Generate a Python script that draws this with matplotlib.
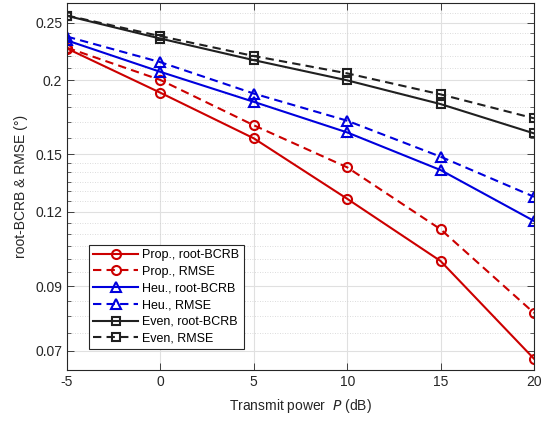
import matplotlib
matplotlib.use("Agg")
import matplotlib.pyplot as plt
import numpy as np
from matplotlib.ticker import FixedLocator, NullFormatter

plt.rcParams['font.family'] = ['Liberation Sans', 'DejaVu Sans']

power_db = [-5, 0, 5, 10, 15, 20]
prop_bcrb = [0.2263, 0.1906, 0.1597, 0.1263, 0.0992, 0.0679]
prop_rmse = [0.2270, 0.2003, 0.1680, 0.1427, 0.1122, 0.0811]
heu_bcrb = [0.2335, 0.2067, 0.1840, 0.1634, 0.1412, 0.1159]
heu_rmse = [0.2370, 0.2146, 0.1900, 0.1710, 0.1487, 0.1273]
even_bcrb = [0.2569, 0.2352, 0.2163, 0.2000, 0.1824, 0.1628]
even_rmse = [0.2572, 0.2374, 0.2198, 0.2055, 0.1894, 0.1726]

major_yticks = [0.07, 0.09, 0.12, 0.15, 0.2, 0.25]
major_ylabels = ['0.07', '0.09', '0.12', '0.15', '0.2', '0.25']
xticks = [-5, 0, 5, 10, 15, 20]

red = '#CC0000'
blue = '#0000DD'
black = '#202020'

fig = plt.figure(figsize=(5.54, 4.24), dpi=100)
ax = fig.add_axes([67/554, 1-370/424, (534-67)/554, (370-3)/424])

dash = (4, 2.5)
lw = 1.5
series = [
    (prop_bcrb, red, '-', 'o', 6.5, 'Prop., root-BCRB'),
    (prop_rmse, red, '--', 'o', 6.5, 'Prop., RMSE'),
    (heu_bcrb, blue, '-', '^', 7.5, 'Heu., root-BCRB'),
    (heu_rmse, blue, '--', '^', 7.5, 'Heu., RMSE'),
    (even_bcrb, black, '-', 's', 5.2, 'Even, root-BCRB'),
    (even_rmse, black, '--', 's', 5.2, 'Even, RMSE'),
]
for vals, c, ls, m, ms, lab in series:
    line, = ax.plot(power_db, vals, color=c, linestyle=ls, marker=m, markersize=ms,
                    markerfacecolor='none', markeredgewidth=1.5, linewidth=lw, label=lab)
    if ls == '--':
        line.set_dashes(dash)

ax.set_yscale('log')
ax.set_xlim(-5, 20)
ax.set_ylim(0.065, 0.27)

minor = [v/1000 for v in range(65, 150, 5)] + [v/100 for v in range(15, 28)]
minor = [m for m in minor if all(abs(m - M) > 1e-9 for M in major_yticks)]
ax.yaxis.set_major_locator(FixedLocator(major_yticks))
ax.set_yticklabels(major_ylabels)
ax.yaxis.set_minor_locator(FixedLocator(minor))
ax.yaxis.set_minor_formatter(NullFormatter())
ax.set_xticks(xticks)
ax.set_xticklabels([str(x) for x in xticks])

ax.grid(True, which='major', color='#E0E0E0', linewidth=0.8, linestyle='-')
ax.grid(True, which='minor', axis='y', color='#D0D0D0', linewidth=0.6, linestyle=(0, (1, 2)))
ax.set_axisbelow(True)

ax.tick_params(which='both', direction='in', top=True, right=True, colors='#262626',
               labelsize=10)
ax.tick_params(which='major', length=5, width=0.6)
ax.tick_params(which='minor', length=3, width=0.5)
for s in ax.spines.values():
    s.set_color('#262626')
    s.set_linewidth(0.8)

ax.set_xlabel('Transmit power  $\\mathit{P}$ (dB)', fontsize=10, color='#262626', labelpad=6)
ax.set_ylabel('root-BCRB & RMSE (°)', fontsize=10, color='#262626', labelpad=5)

leg = ax.legend(loc='lower left', bbox_to_anchor=(0.047, 0.057), borderaxespad=0,
                fontsize=9, handlelength=3.6, labelspacing=0.38, borderpad=0.35,
                handletextpad=0.3, fancybox=False, edgecolor='#262626', framealpha=1)
leg.get_frame().set_linewidth(0.8)

fig.savefig('out.png', dpi=100)
